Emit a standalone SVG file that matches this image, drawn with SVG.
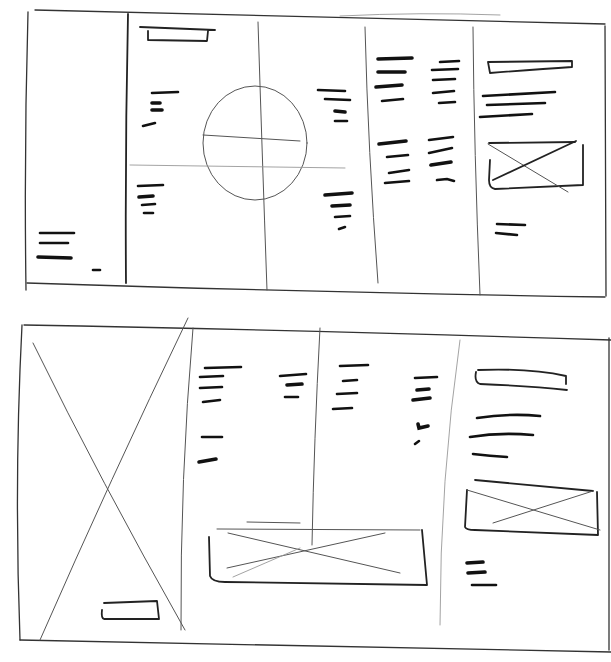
<svg xmlns="http://www.w3.org/2000/svg" width="611" height="662" viewBox="0 0 611 662">
<style>
.bg{fill:#fff}
.frame{fill:none;stroke:#333;stroke-width:1.3;stroke-linecap:round;stroke-linejoin:round}
.faint{fill:none;stroke:#999;stroke-width:0.9;stroke-linecap:round}
.thin{fill:none;stroke:#555;stroke-width:1;stroke-linecap:round}
.box{fill:none;stroke:#222;stroke-width:1.8;stroke-linecap:round;stroke-linejoin:round}
.d{fill:none;stroke:#111;stroke-width:2.6;stroke-linecap:round}
.dt{fill:none;stroke:#111;stroke-width:3.6;stroke-linecap:round}
</style>
<rect class="bg" x="0" y="0" width="611" height="662"/>

<g id="top-sheet">
  <g id="top-frame">
    <path class="frame" d="M35,10 Q300,16 605,24"/>
    <path class="frame" d="M28,12 Q24,150 26,290"/>
    <path class="frame" d="M27,283 Q300,292 605,297"/>
    <path class="frame" d="M605,26 L606,296"/>
    <path class="faint" d="M340,16 Q420,12 500,15"/>
  </g>
  <g id="top-col1">
    <path class="box" d="M128,14 Q125,150 126,283"/>
    <path class="d" d="M40,233 L74,233"/>
    <path class="d" d="M40,243 L68,243"/>
    <path class="dt" d="M38,257 L71,258"/>
    <path class="d" d="M93,270 L100,270"/>
  </g>
  <g id="top-col2">
    <path class="box" d="M140,27 L215,30 M148,31 L148,40 L207,41 L208,31"/>
    <path class="d" d="M152,93 L178,92"/>
    <path class="dt" d="M152,103 L160,103"/>
    <path class="dt" d="M152,110 L162,110"/>
    <path class="d" d="M143,126 L155,123"/>
    <path class="d" d="M138,186 L163,185"/>
    <path class="dt" d="M139,197 L153,196"/>
    <path class="d" d="M142,205 L155,204"/>
    <path class="d" d="M144,213 L153,213"/>
  </g>
  <g id="top-center">
    <path class="thin" d="M258,22 Q262,150 267,290"/>
    <ellipse class="thin" cx="255" cy="143" rx="52" ry="57"/>
    <path class="thin" d="M203,135 L300,141"/>
    <path class="faint" d="M130,165 L345,168"/>
  </g>
  <g id="top-col3">
    <path class="d" d="M318,90 L345,91"/>
    <path class="d" d="M325,99 L350,100"/>
    <path class="dt" d="M335,111 L345,112"/>
    <path class="d" d="M335,121 L347,121"/>
    <path class="dt" d="M325,195 L352,193"/>
    <path class="dt" d="M332,206 L350,205"/>
    <path class="d" d="M335,217 L350,216"/>
    <path class="d" d="M339,229 L345,227"/>
  </g>
  <g id="top-col4">
    <path class="thin" d="M365,27 Q368,150 378,283"/>
    <path class="dt" d="M378,59 L412,58"/>
    <path class="dt" d="M378,72 L405,72"/>
    <path class="dt" d="M376,87 L402,85"/>
    <path class="d" d="M382,101 L403,99"/>
    <path class="d" d="M440,62 L459,61"/>
    <path class="d" d="M432,70 L458,69"/>
    <path class="d" d="M433,80 L455,79"/>
    <path class="d" d="M433,93 L454,91"/>
    <path class="d" d="M439,103 L455,102"/>
    <path class="dt" d="M379,144 L406,141"/>
    <path class="d" d="M387,157 L408,155"/>
    <path class="d" d="M389,173 L409,170"/>
    <path class="d" d="M385,183 L409,181"/>
    <path class="d" d="M429,140 L453,137"/>
    <path class="d" d="M429,153 L452,148"/>
    <path class="dt" d="M431,165 L451,162"/>
    <path class="d" d="M437,180 L447,179 L454,181"/>
  </g>
  <g id="top-col5">
    <path class="thin" d="M473,27 Q474,150 480,295"/>
    <path class="box" d="M488,62 L572,61 L572,67 Q540,69 490,73 Z"/>
    <path class="d" d="M483,96 L555,92"/>
    <path class="d" d="M487,105 L545,103"/>
    <path class="d" d="M480,117 L532,114"/>
    <path class="box" d="M489,143 L575,142 M583,145 L583,185 L495,189 Q489,188 489,180 L490,160"/>
    <path class="thin" d="M488,144 L568,192"/>
    <path class="box" d="M493,180 L576,141"/>
    <path class="d" d="M497,224 L525,225"/>
    <path class="d" d="M496,233 L517,235"/>
  </g>
</g>

<g id="bottom-sheet">
  <g id="bottom-frame">
    <path class="frame" d="M24,325 Q300,330 611,340"/>
    <path class="frame" d="M22,325 Q14,480 20,640"/>
    <path class="frame" d="M20,640 Q300,645 611,652"/>
    <path class="frame" d="M609,338 L609,650"/>
  </g>
  <g id="bottom-hero">
    <path class="thin" d="M33,343 Q100,480 185,630"/>
    <path class="thin" d="M188,318 Q110,480 40,640"/>
    <path class="thin" d="M193,328 Q180,480 181,630"/>
    <path class="box" d="M104,603 L157,601 L159,619 L104,619 Q101,618 102,610"/>
  </g>
  <g id="bottom-col2">
    <path class="d" d="M205,368 L241,367"/>
    <path class="d" d="M200,377 L223,376"/>
    <path class="d" d="M200,388 L222,387"/>
    <path class="d" d="M203,402 L220,400"/>
    <path class="d" d="M202,437 L222,437"/>
    <path class="dt" d="M199,462 L216,459"/>
    <path class="d" d="M280,376 L306,374"/>
    <path class="dt" d="M287,385 L302,384"/>
    <path class="d" d="M285,397 L298,397"/>
  </g>
  <g id="bottom-center">
    <path class="thin" d="M320,328 Q314,440 312,545"/>
    <path class="thin" d="M217,529 L420,530 M247,522 L300,523"/>
    <path class="box" d="M209,537 L210,576 Q212,582 225,582 L427,585 L422,530"/>
    <path class="thin" d="M228,533 L400,573"/>
    <path class="thin" d="M227,568 L385,533"/>
    <path class="faint" d="M233,577 L300,548"/>
  </g>
  <g id="bottom-col3">
    <path class="d" d="M340,366 L368,365"/>
    <path class="d" d="M343,381 L357,380"/>
    <path class="d" d="M337,394 L357,393"/>
    <path class="d" d="M333,409 L352,408"/>
    <path class="d" d="M415,378 L437,377"/>
    <path class="dt" d="M417,390 L429,389"/>
    <path class="dt" d="M413,400 L430,398"/>
    <path class="dt" d="M418,424 L419,428 L428,426"/>
    <path class="d" d="M415,444 L419,441"/>
  </g>
  <g id="bottom-col4">
    <path class="faint" d="M460,340 Q440,480 440,625"/>
    <path class="box" d="M478,370 Q530,368 566,376 L566,384 M476,372 Q474,382 480,384 Q530,386 567,390"/>
    <path class="d" d="M477,418 Q510,413 540,416"/>
    <path class="d" d="M470,437 Q500,432 533,435"/>
    <path class="d" d="M473,454 Q490,456 507,457"/>
    <path class="box" d="M475,480 L593,491 M467,490 L465,527 Q466,530 475,530 L598,535 L597,492"/>
    <path class="thin" d="M467,490 L600,530"/>
    <path class="thin" d="M493,523 L593,491"/>
    <path class="dt" d="M467,563 L483,562"/>
    <path class="dt" d="M468,573 L485,572"/>
    <path class="d" d="M472,585 L496,585"/>
  </g>
</g>
</svg>
